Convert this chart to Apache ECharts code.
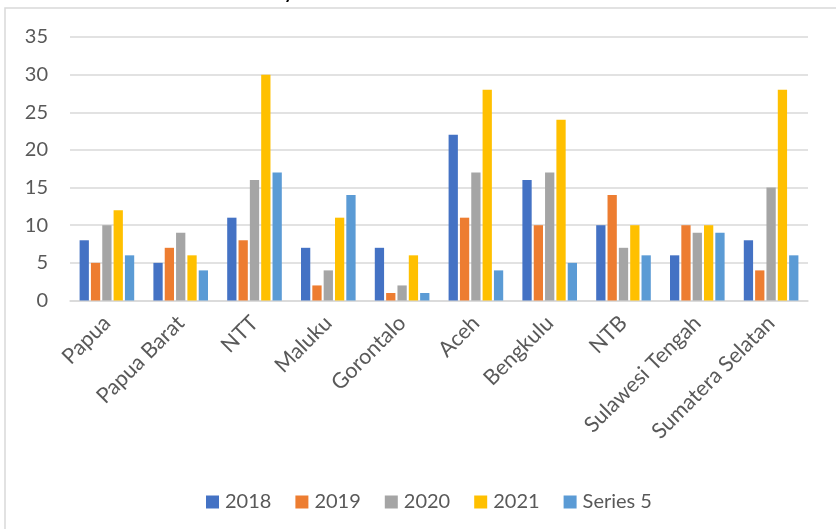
<!DOCTYPE html>
<html>
<head>
<meta charset="utf-8">
<script src="https://cdn.jsdelivr.net/npm/echarts@6/dist/echarts.min.js"></script>
<style>
html,body{margin:0;padding:0;background:#fff;}
#c{width:836px;height:529px;}
</style>
</head>
<body>
<div id="c"></div>
<script>
const categories = ['Papua','Papua Barat','NTT','Maluku','Gorontalo','Aceh','Bengkulu','NTB','Sulawesi Tengah','Sumatera Selatan'];
const seriesNames = ['2018','2019','2020','2021','Series 5'];
const s2018 = [8,5,11,7,7,22,16,10,6,8];
const s2019 = [5,7,8,2,1,11,10,14,10,4];
const s2020 = [10,9,16,4,2,17,17,7,9,15];
const s2021 = [12,6,30,11,6,28,24,10,10,28];
const s5    = [6,4,17,14,1,4,5,6,9,6];
const yTicks = [0,5,10,15,20,25,30,35];
const colors = ['#4472C4','#ED7D31','#A5A5A5','#FFC000','#5B9BD5'];

const allData = [s2018,s2019,s2020,s2021,s5];
const font = 'Lato, "Open Sans", sans-serif';

const chart = echarts.init(document.getElementById('c'));
chart.setOption({
  animation:false,
  color: colors,
  graphic:[
    {type:'rect', shape:{x:5,y:8,width:900,height:600}, style:{fill:'none',stroke:'#d9d9d9',lineWidth:1.5}, silent:true, z:-10},
    {type:'text', x:284, y:-16, style:{text:'y', font:'bold 18px '+font, fill:'#000'}}
  ],
  grid:{left:70,right:28,top:37,bottom:228.5,containLabel:false},
  legend:{
    top:487, left:201,
    itemWidth:13, itemHeight:13, itemGap:24,
    icon:'rect',
    textStyle:{fontSize:20,color:'#595959',fontFamily:font,padding:[0,0,0,1]},
    data: seriesNames
  },
  xAxis:{
    type:'category',
    data:categories,
    axisLine:{lineStyle:{color:'#d9d9d9',width:1.5}},
    axisTick:{show:false},
    axisLabel:{rotate:45,fontSize:21.5,color:'#595959',fontFamily:font,margin:19,interval:0}
  },
  yAxis:{
    type:'value',
    min:yTicks[0], max:yTicks[yTicks.length-1], interval:5,
    axisLine:{show:false},
    axisTick:{show:false},
    splitLine:{lineStyle:{color:'#d9d9d9',width:1.5}},
    axisLabel:{fontSize:20,color:'#595959',fontFamily:font,margin:22}
  },
  series: seriesNames.map((n,i)=>({
    name:n, type:'bar', data:allData[i],
    barGap:'22%', barCategoryGap:'26%',
    itemStyle:{color:colors[i]}
  }))
});
</script>
</body>
</html>
